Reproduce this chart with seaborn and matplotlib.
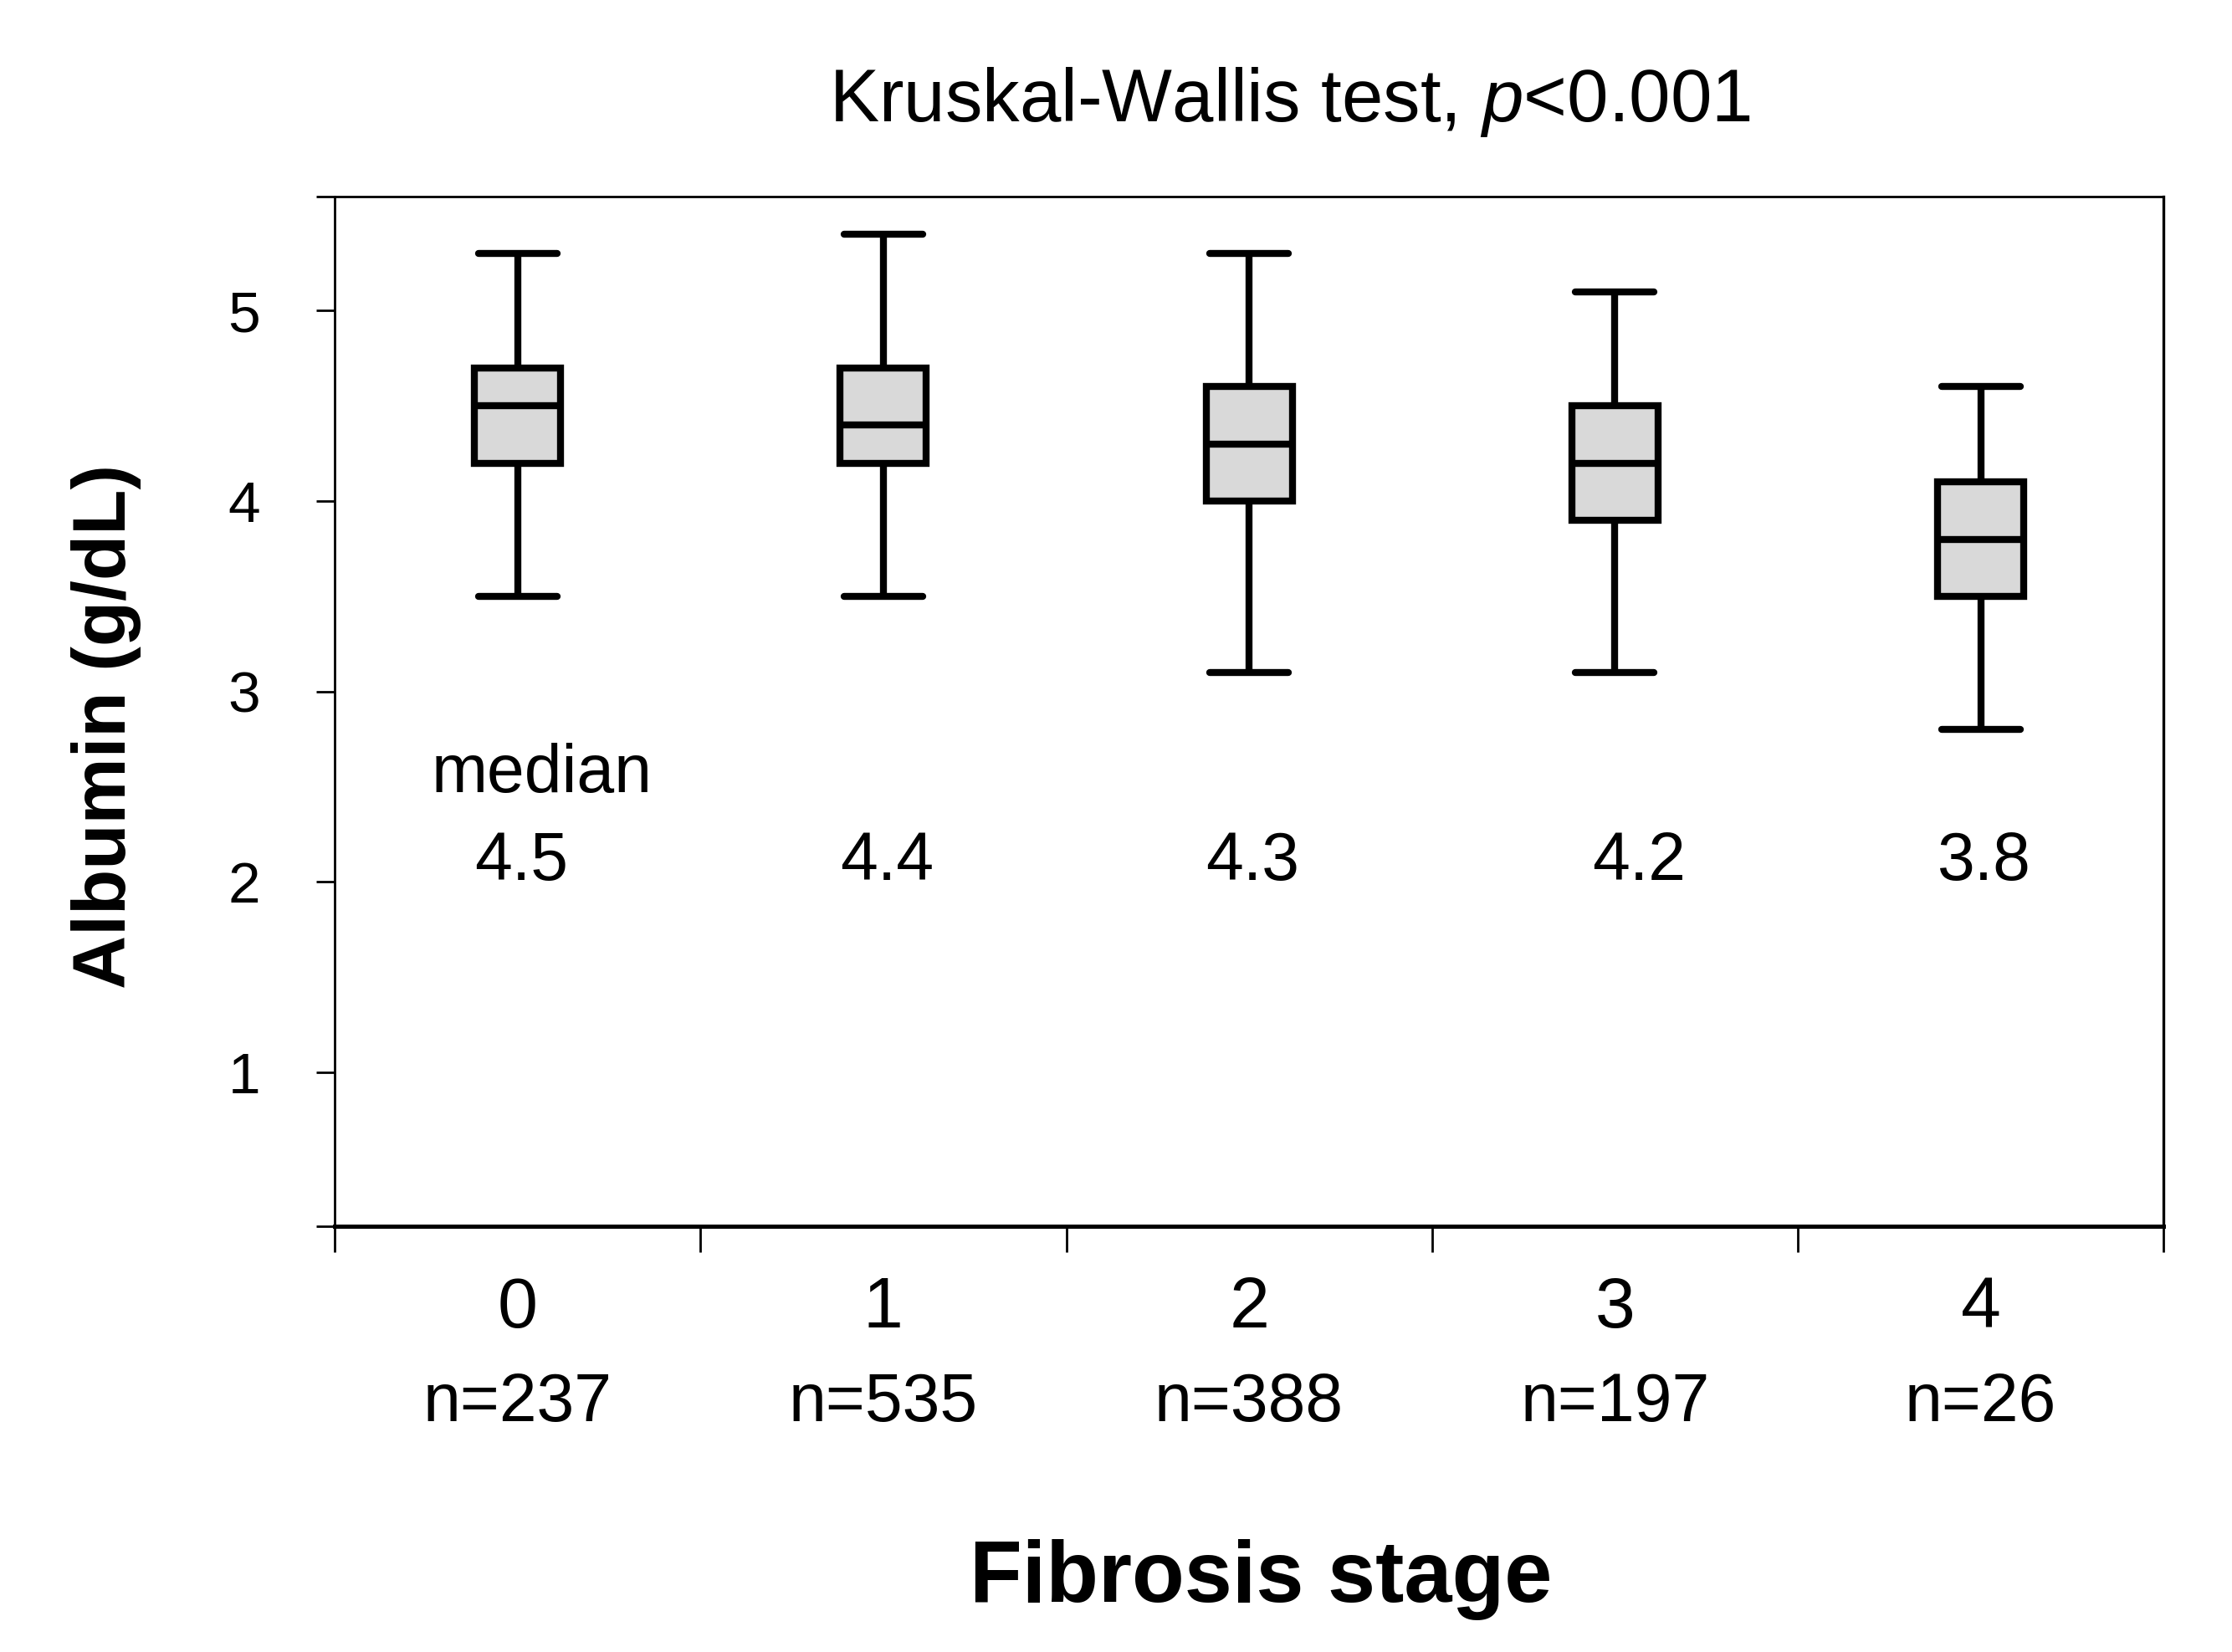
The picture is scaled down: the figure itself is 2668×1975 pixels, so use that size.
import numpy as np
import pandas as pd
import matplotlib.pyplot as plt
import matplotlib.transforms as mtransforms
import seaborn as sns

# Fibrosis stages and five-number summaries
stages = ["0", "1", "2", "3", "4"]
n_counts = [237, 535, 388, 197, 26]
whisker_low = [3.5, 3.5, 3.1, 3.1, 2.8]
q1 = [4.2, 4.2, 4.0, 3.9, 3.5]
medians = [4.5, 4.4, 4.3, 4.2, 3.8]
q3 = [4.7, 4.7, 4.6, 4.5, 4.1]
whisker_high = [5.3, 5.4, 5.3, 5.1, 4.6]

# long table: 5 values per stage -> quartiles land exactly on the summary values
rows = []
for i, s in enumerate(stages):
    for v in (whisker_low[i], q1[i], medians[i], q3[i], whisker_high[i]):
        rows.append({"stage": s, "albumin": v})
df = pd.DataFrame(rows)

sns.set_style("ticks")
plt.rcParams["font.family"] = ["Liberation Sans", "DejaVu Sans"]
plt.rcParams["mathtext.fontset"] = "custom"
plt.rcParams["mathtext.it"] = "Liberation Sans:italic"
plt.rcParams["mathtext.rm"] = "Liberation Sans"
for key in ["text.color", "axes.labelcolor", "xtick.color", "ytick.color", "axes.edgecolor"]:
    plt.rcParams[key] = "black"

fig, ax = plt.subplots(figsize=(13.34, 9.875), dpi=200)
fig.subplots_adjust(left=0.1499, right=0.9694, top=0.8811, bottom=0.2575)

box_kws = dict(data=df, x="stage", y="albumin", order=stages, whis=(0, 100),
               width=0.235, color="#d9d9d9", linecolor="black", linewidth=3.0,
               saturation=1, ax=ax)
try:
    sns.boxplot(capwidths=0.215, **box_kws)
except TypeError:
    sns.boxplot(**box_kws)

# axes limits / ticks
ylo, yhi = 0.19, 5.6
ax.set_ylim(ylo, yhi)
ax.set_xlim(-0.5, 4.5)
ax.set_yticks([ylo, 1, 2, 3, 4, 5, yhi])
ax.set_yticklabels(["", "1", "2", "3", "4", "5", ""])
ax.set_xticks(np.arange(-0.5, 5, 1))
ax.set_xticklabels([])
ax.set_xticks(range(len(stages)), minor=True)
ax.set_xticklabels(stages, minor=True)

ax.tick_params(axis="y", length=8, width=1.0, labelsize=25, pad=24)
ax.tick_params(axis="x", which="major", length=11, width=1.0)
ax.tick_params(axis="x", which="minor", length=0, labelsize=31, pad=21)

for side, lw in [("left", 1.0), ("bottom", 1.8), ("top", 1.0), ("right", 1.2)]:
    ax.spines[side].set_visible(True)
    ax.spines[side].set_linewidth(lw)

ax.set_xlabel("")
ax.set_ylabel("")

# n= under each stage
trans = mtransforms.blended_transform_factory(ax.transData, fig.transFigure)
for i, n in enumerate(n_counts):
    ax.text(i, 0.14, f"n={n}", transform=trans, ha="center", va="baseline", fontsize=29)

# median annotations (the 4.2 label sits a little right in the original)
ax.text(0.066, 2.47, "median", ha="center", va="baseline", fontsize=29)
for i, m in enumerate(medians):
    nudge = 0.065 if i == 3 else 0.01
    ax.text(i + nudge, 2.01, f"{m:.1f}", ha="center", va="baseline", fontsize=29)

fig.text(0.578, 0.9266, "Kruskal-Wallis test, $p$<0.001", ha="center", va="baseline", fontsize=32)
fig.text(0.565, 0.0304, "Fibrosis stage", ha="center", va="baseline", fontsize=37, fontweight="bold")
fig.text(0.0475, 0.5605, "Albumin (g/dL)", ha="center", va="center", rotation=90,
         fontsize=32, fontweight="bold")

plt.savefig("out.png", dpi=200, facecolor="white")
